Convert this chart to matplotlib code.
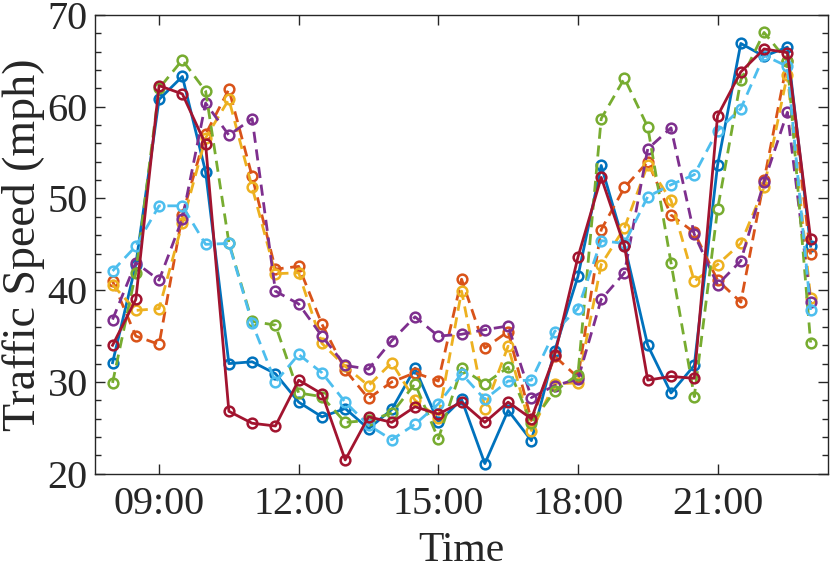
import pandas as pd
import matplotlib
matplotlib.use("Agg")
import matplotlib.pyplot as plt
import matplotlib.dates as mdates
from matplotlib.ticker import MultipleLocator

# half-hour samples from 08:00 to 23:00
times = pd.date_range("2020-01-01 08:00", "2020-01-01 23:00", freq="30min")

blue = [32.1, 42.8, 60.8, 63.3, 52.9, 32.0, 32.2, 30.9, 27.8, 26.2, 27.1, 24.9, 27.0, 31.5, 25.6, 28.1,
        21.1, 26.9, 23.6, 33.4, 41.5, 53.6, 44.9, 34.0, 28.8, 31.8, 53.6, 66.9, 65.5, 66.5, 44.8]
orange = [41.0, 35.0, 34.1, 48.2, 57.0, 61.9, 52.4, 42.3, 42.6, 36.3, 31.3, 28.2, 30.0, 31.0, 30.1, 41.2,
          33.7, 35.5, 25.8, 32.8, 30.5, 46.6, 51.2, 54.0, 48.2, 46.3, 41.1, 38.7, 52.0, 65.0, 43.9]
yellow = [40.6, 37.8, 38.0, 47.3, 56.6, 60.8, 51.2, 41.8, 41.9, 34.2, 31.7, 29.6, 32.1, 28.0, 26.1, 39.9,
          27.1, 33.9, 24.7, 29.8, 29.9, 42.8, 46.8, 53.7, 49.8, 41.0, 42.8, 45.1, 51.2, 63.5, 39.1]
purple = [36.8, 43.0, 41.1, 47.8, 60.4, 56.9, 58.7, 39.9, 38.5, 35.0, 31.8, 31.4, 34.5, 37.1, 35.0, 35.2,
          35.7, 36.1, 28.3, 29.6, 30.3, 39.0, 41.9, 55.4, 57.7, 46.1, 40.6, 43.2, 51.8, 59.4, 38.7]
green = [29.9, 41.9, 62.0, 65.1, 61.7, 45.2, 36.6, 36.2, 28.8, 28.4, 25.6, 25.8, 26.6, 29.8, 23.8, 31.5,
         29.8, 31.6, 25.5, 29.0, 30.8, 58.7, 63.1, 57.8, 43.0, 28.4, 48.8, 62.9, 68.1, 65.0, 34.3]
cyan = [42.1, 44.8, 49.2, 49.2, 45.0, 45.1, 36.4, 30.0, 33.0, 31.0, 27.8, 25.3, 23.7, 25.4, 27.6, 30.9,
        28.1, 30.1, 30.2, 35.5, 38.0, 45.4, 45.1, 50.2, 51.5, 52.6, 57.4, 59.8, 65.6, 64.4, 37.8]
red = [34.0, 39.0, 62.3, 61.4, 55.9, 26.8, 25.5, 25.2, 30.2, 28.7, 21.5, 26.2, 25.6, 27.3, 26.5, 27.8,
       25.6, 27.8, 26.0, 32.9, 43.6, 52.3, 44.8, 30.2, 30.6, 30.4, 59.0, 63.8, 66.3, 65.9, 45.6]

series = [
    (blue, "#0072BD", "-"),
    (orange, "#D95319", "--"),
    (yellow, "#EDB120", "--"),
    (purple, "#7E2F8E", "--"),
    (green, "#77AC30", "--"),
    (cyan, "#4DBEEE", "--"),
    (red, "#A2142F", "-"),
]

plt.rcParams["font.family"] = ["Liberation Serif", "DejaVu Serif"]
plt.rcParams["lines.dashed_pattern"] = [4.0, 2.4]

fig = plt.figure(figsize=(8.3, 5.71), dpi=100)
ax = fig.add_axes([0.1141, 0.1704, 0.8831, 0.8033])

for vals, col, ls in series:
    ax.plot(times, vals, ls, color=col, lw=2, marker="o", ms=7, mfc="none", mew=1.8)

ax.set_xlim(pd.Timestamp("2020-01-01 07:37"), pd.Timestamp("2020-01-01 23:22"))
ax.set_ylim(20, 70)
ax.xaxis.set_major_locator(mdates.HourLocator(byhour=[9, 12, 15, 18, 21]))
ax.xaxis.set_major_formatter(mdates.DateFormatter("%H:%M"))
ax.yaxis.set_major_locator(MultipleLocator(10))
ax.yaxis.set_minor_locator(MultipleLocator(2))

ax.tick_params(which="both", direction="in", top=True, right=True, colors="#262626",
               labelsize=29, labelcolor="#262626")
ax.tick_params(which="major", length=7, width=1)
ax.tick_params(which="minor", length=4, width=1)
ax.tick_params(axis="x", pad=9)
ax.tick_params(axis="y", pad=5)
for sp in ax.spines.values():
    sp.set_color("#262626")
    sp.set_linewidth(1)

ax.set_xlabel("Time", fontsize=30, color="#262626", labelpad=6)
ax.set_ylabel("Traffic Speed (mph)", fontsize=33, color="#262626", labelpad=2)

plt.savefig("out.png", dpi=100)
